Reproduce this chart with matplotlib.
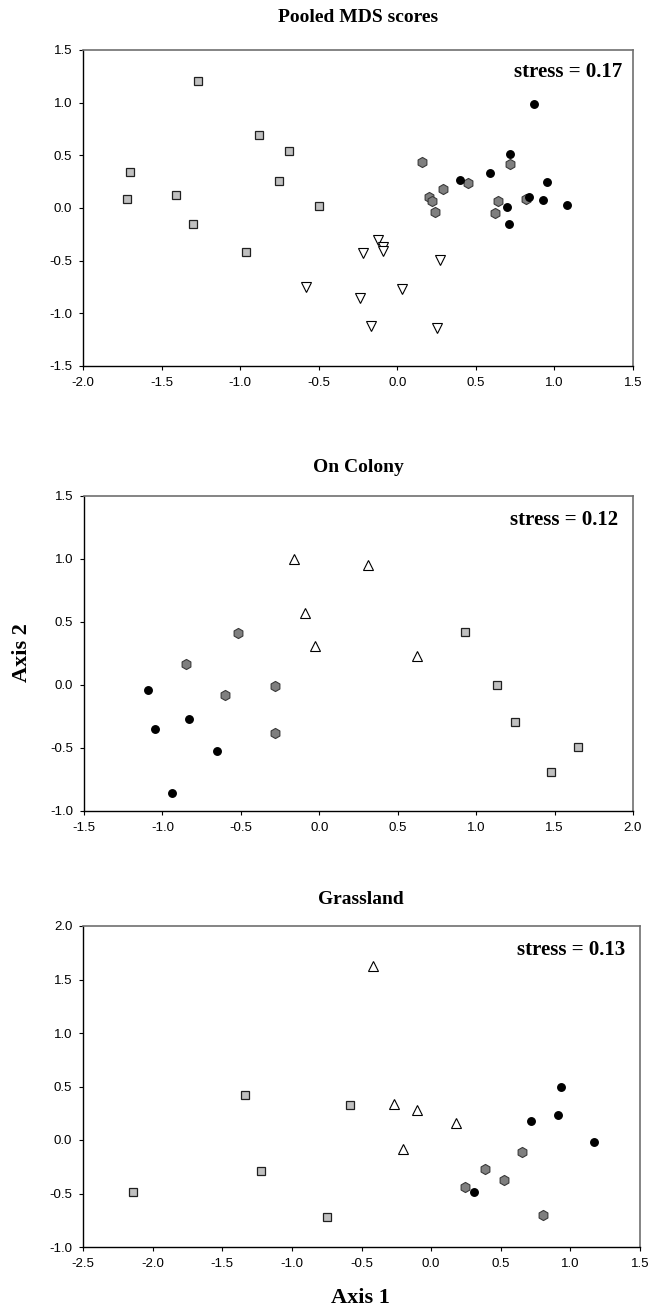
import matplotlib
matplotlib.use("Agg")
import matplotlib.pyplot as plt

plt.rcParams['font.family'] = ['Liberation Sans', 'DejaVu Sans']

# ---- Pooled MDS scores ----
pool_sq_x = [-1.27, -0.88, -0.69, -1.70, -0.75, -1.72, -1.41, -0.50, -1.30, -0.96]
pool_sq_y = [1.21, 0.69, 0.54, 0.34, 0.26, 0.09, 0.12, 0.02, -0.15, -0.42]
pool_tri_x = [-0.12, -0.09, -0.09, -0.22, 0.27, 0.03, -0.24, -0.17, 0.25, -0.58]
pool_tri_y = [-0.30, -0.37, -0.41, -0.43, -0.49, -0.77, -0.85, -1.12, -1.14, -0.75]
pool_hex_x = [0.16, 0.20, 0.22, 0.24, 0.29, 0.45, 0.72, 0.64, 0.62, 0.82]
pool_hex_y = [0.44, 0.10, 0.07, -0.04, 0.18, 0.24, 0.42, 0.07, -0.05, 0.09]
pool_dot_x = [0.87, 0.72, 0.59, 0.40, 0.95, 0.84, 0.93, 1.08, 0.70, 0.71]
pool_dot_y = [0.99, 0.51, 0.33, 0.27, 0.25, 0.10, 0.08, 0.03, 0.01, -0.15]

# ---- On Colony ----
col_dot_x = [-1.09, -0.83, -1.05, -0.65, -0.94]
col_dot_y = [-0.04, -0.27, -0.35, -0.52, -0.86]
col_hex_x = [-0.52, -0.85, -0.60, -0.28, -0.28]
col_hex_y = [0.41, 0.17, -0.08, -0.01, -0.38]
col_tri_x = [-0.16, 0.31, -0.09, -0.03, 0.62]
col_tri_y = [1.00, 0.95, 0.57, 0.31, 0.23]
col_sq_x = [0.93, 1.13, 1.25, 1.65, 1.48]
col_sq_y = [0.42, 0.00, -0.29, -0.49, -0.69]

# ---- Grassland ----
gr_sq_x = [-2.14, -1.34, -1.22, -0.58, -0.75]
gr_sq_y = [-0.49, 0.42, -0.29, 0.33, -0.72]
gr_tri_x = [-0.42, -0.27, -0.10, 0.18, -0.20]
gr_tri_y = [1.63, 0.34, 0.28, 0.16, -0.08]
gr_dot_x = [0.93, 0.91, 0.72, 1.17, 0.31]
gr_dot_y = [0.50, 0.23, 0.18, -0.02, -0.49]
gr_hex_x = [0.65, 0.39, 0.52, 0.24, 0.80]
gr_hex_y = [-0.11, -0.27, -0.37, -0.44, -0.70]

W, H = 651, 1310
fig = plt.figure(figsize=(W / 100, H / 100), dpi=100)

def px_axes(x0, x1, y0, y1):
    return fig.add_axes([x0 / W, 1 - y1 / H, (x1 - x0) / W, (y1 - y0) / H])

serif = dict(family='Liberation Serif', fontweight='bold')

def style(ax, xlim, ylim, xticks, yticks):
    ax.set_xlim(xlim)
    ax.set_ylim(ylim)
    ax.set_xticks(xticks)
    ax.set_yticks(yticks)
    ax.set_xticklabels(['%.1f' % t for t in xticks])
    ax.set_yticklabels(['%.1f' % t for t in yticks])
    ax.tick_params(direction='out', length=3.2, width=0.8, labelsize=9.5, pad=4.5,
                   colors='black', top=False, right=False)
    for s in ['left', 'bottom']:
        ax.spines[s].set_color('black')
        ax.spines[s].set_linewidth(1.0)
    for s in ['top', 'right']:
        ax.spines[s].set_color('#707070')
        ax.spines[s].set_linewidth(1.2)

def draw(ax, sq, tri, hexa, dot, tri_marker):
    ax.plot(sq[0], sq[1], 's', ms=6.2, mfc='#c0c0c0', mec='#202020', mew=0.9, ls='none')
    ax.plot(tri[0], tri[1], tri_marker, ms=6.6, mfc='white', mec='black', mew=0.8, ls='none')
    ax.plot(hexa[0], hexa[1], 'h', ms=7.3, mfc='#7f7f7f', mec='#3a3a3a', mew=0.8, ls='none')
    ax.plot(dot[0], dot[1], 'o', ms=5.4, mfc='black', mec='black', ls='none')

# top
ax1 = px_axes(83, 633, 50, 366)
style(ax1, (-2.0, 1.5), (-1.5, 1.5),
      [-2.0, -1.5, -1.0, -0.5, 0.0, 0.5, 1.0, 1.5],
      [-1.5, -1.0, -0.5, 0.0, 0.5, 1.0, 1.5])
draw(ax1, (pool_sq_x, pool_sq_y), (pool_tri_x, pool_tri_y),
     (pool_hex_x, pool_hex_y), (pool_dot_x, pool_dot_y), 'v')

# middle
ax2 = px_axes(84, 633, 496, 811)
style(ax2, (-1.5, 2.0), (-1.0, 1.5),
      [-1.5, -1.0, -0.5, 0.0, 0.5, 1.0, 1.5, 2.0],
      [-1.0, -0.5, 0.0, 0.5, 1.0, 1.5])
draw(ax2, (col_sq_x, col_sq_y), (col_tri_x, col_tri_y),
     (col_hex_x, col_hex_y), (col_dot_x, col_dot_y), '^')

# bottom
ax3 = px_axes(83, 640, 926, 1247)
style(ax3, (-2.5, 1.5), (-1.0, 2.0),
      [-2.5, -2.0, -1.5, -1.0, -0.5, 0.0, 0.5, 1.0, 1.5],
      [-1.0, -0.5, 0.0, 0.5, 1.0, 1.5, 2.0])
draw(ax3, (gr_sq_x, gr_sq_y), (gr_tri_x, gr_tri_y),
     (gr_hex_x, gr_hex_y), (gr_dot_x, gr_dot_y), '^')

def ftext(x, y, s, **kw):
    fig.text(x / W, 1 - y / H, s, **kw)

ftext(358, 18, 'Pooled MDS scores', ha='center', va='center', fontsize=14, **serif)
ftext(358, 468, 'On Colony', ha='center', va='center', fontsize=14, **serif)
ftext(361, 900, 'Grassland', ha='center', va='center', fontsize=14, **serif)

ftext(622, 72, 'stress = 0.17', ha='right', va='center', fontsize=15, **serif)
ftext(618, 520, 'stress = 0.12', ha='right', va='center', fontsize=15, **serif)
ftext(625, 950, 'stress = 0.13', ha='right', va='center', fontsize=15, **serif)

ftext(360, 1298, 'Axis 1', ha='center', va='center', fontsize=16, **serif)
ftext(22, 653, 'Axis 2', ha='center', va='center', rotation=90, fontsize=16, **serif)

fig.savefig('out.png', dpi=100)
